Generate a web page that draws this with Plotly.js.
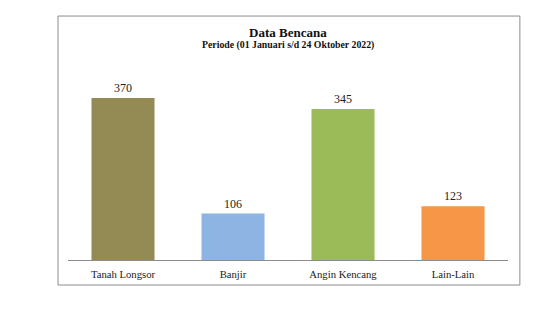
<!DOCTYPE html>
<html>
<head>
<meta charset="utf-8">
<script src="https://cdn.plot.ly/plotly-3.0.1.min.js"></script>
<style>html,body{margin:0;padding:0;background:#fff;}</style>
</head>
<body>
<div id="chart" style="width:544px;height:311px;"></div>
<script>
const categories = ["Tanah Longsor", "Banjir", "Angin Kencang", "Lain-Lain"];
const values = [370, 106, 345, 123];
const barColors = ["#948A54", "#8DB4E2", "#9BBB59", "#F79646"];
const titleText = "Data Bencana";
const subtitleText = "Periode (01 Januari s/d 24 Oktober 2022)";

const serif = "'Liberation Serif', 'Times New Roman', Times, serif";

const trace = {
  type: "bar",
  x: categories,
  y: values,
  marker: {color: barColors},
  text: values.map(String),
  textposition: "outside",
  cliponaxis: false,
  textfont: {family: serif, size: 12, color: "#222"},
  hoverinfo: "none"
};

const layout = {
  width: 544,
  height: 311,
  margin: {l: 68, r: 36, t: 70, b: 51},
  paper_bgcolor: "#fff",
  plot_bgcolor: "#fff",
  showlegend: false,
  bargap: 0.427,
  font: {family: serif},
  xaxis: {
    showline: true,
    linecolor: "#8c8c8c",
    linewidth: 1,
    ticks: "",
    showgrid: false,
    zeroline: false,
    tickfont: {family: serif, size: 10.7, color: "#222"},
    ticklabelstandoff: 4,
    fixedrange: true
  },
  yaxis: {
    range: [0, 434],
    visible: false,
    showgrid: false,
    zeroline: false,
    fixedrange: true
  },
  shapes: [{
    type: "rect",
    xref: "paper", yref: "paper",
    x0: -0.0227, x1: 1.027,
    y0: -0.1316, y1: 1.284,
    line: {color: "#8c8c8c", width: 1},
    fillcolor: "rgba(0,0,0,0)"
  }],
  annotations: [
    {text: "<b>" + titleText + "</b>", xref: "paper", yref: "paper", x: 0.5, y: 1.195,
     xanchor: "center", yanchor: "middle", showarrow: false,
     font: {family: serif, size: 13, color: "#111"}},
    {text: "<b>" + subtitleText + "</b>", xref: "paper", yref: "paper", x: 0.5, y: 1.13,
     xanchor: "center", yanchor: "middle", showarrow: false,
     font: {family: serif, size: 9.8, color: "#111"}}
  ]
};

Plotly.newPlot("chart", [trace], layout, {displayModeBar: false, staticPlot: true});
</script>
</body>
</html>
